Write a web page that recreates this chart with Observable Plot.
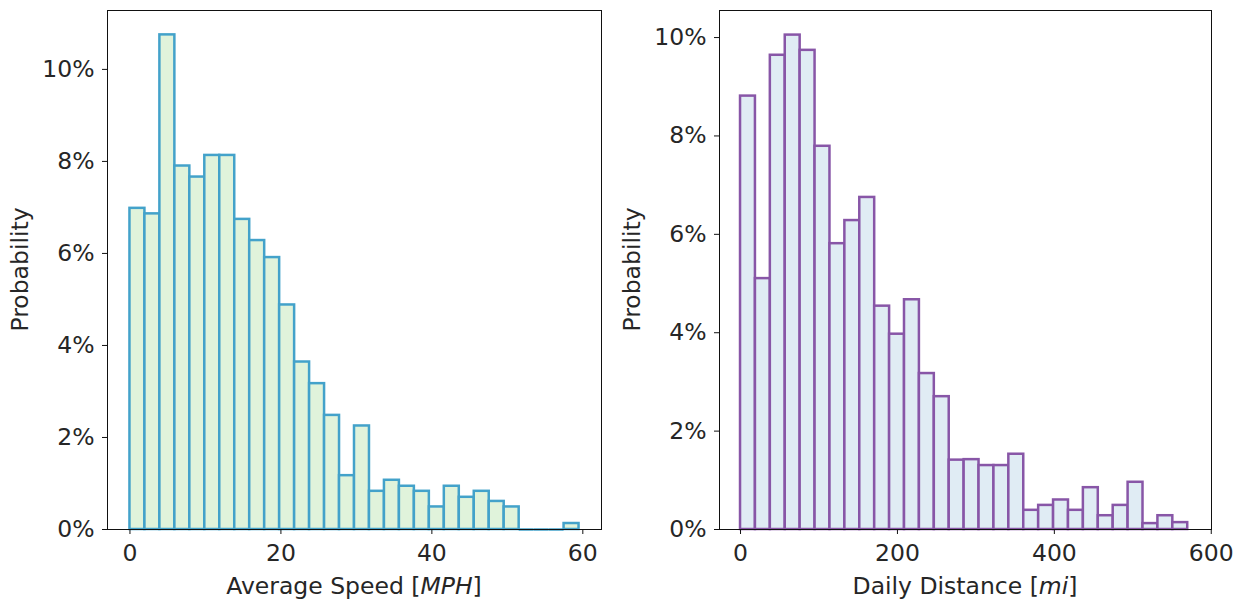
<!DOCTYPE html>
<html>
<head>
<meta charset="utf-8">
<script src="https://cdn.jsdelivr.net/npm/d3@7"></script>
<script src="https://cdn.jsdelivr.net/npm/@observablehq/plot@0.6"></script>
<style>
  html, body { margin: 0; padding: 0; background: white; }
  #chart { display: flex; width: 1241px; height: 600px; }
  #chart svg { overflow: visible; }
</style>
</head>
<body>
<div id="chart"></div>
<script>
// ---- data (probability per bin, in %) ----
const speedValues = [6.98, 6.86, 10.75, 7.90, 7.66, 8.13, 8.13, 6.74, 6.28, 5.91,
                     4.88, 3.64, 3.17, 2.48, 1.17, 2.25, 0.83, 1.07, 0.94, 0.83,
                     0.49, 0.94, 0.70, 0.83, 0.61, 0.49, 0, 0, 0, 0.13];
const speedRange = [0, 59.5];
const distanceValues = [8.81, 5.10, 9.64, 10.05, 9.74, 7.79, 5.81, 6.28, 6.75, 4.54,
                        3.97, 4.67, 3.17, 2.70, 1.41, 1.42, 1.30, 1.30, 1.53, 0.39,
                        0.49, 0.60, 0.39, 0.85, 0.28, 0.49, 0.96, 0.12, 0.28, 0.14];
const distanceRange = [0, 570];
const speedTicks = [0, 20, 40, 60];
const distanceTicks = [0, 200, 400, 600];
const probTicks = [0, 2, 4, 6, 8, 10];
const probTickLabels = ["0%", "2%", "4%", "6%", "8%", "10%"];

function binTable(values, range) {
  const w = (range[1] - range[0]) / values.length;
  return values.map((p, i) => ({x1: range[0] + i * w, x2: range[0] + (i + 1) * w, p}));
}

const FONT = "DejaVu Sans";
const FS = 23.5;
const TXT = "#262626";

function panel({values, range, xTicks, xDomain, yDomain, fill, stroke, width, mL, mR, xLabel, xItalic}) {
  const table = binTable(values, range);
  const svg = Plot.plot({
    width, height: 600,
    marginLeft: mL, marginRight: mR, marginTop: 10, marginBottom: 71,
    style: {fontFamily: FONT, fontSize: FS + "px", color: TXT, background: "white"},
    x: {domain: xDomain},
    y: {domain: yDomain},
    marks: [
      Plot.rect(table, {x1: "x1", x2: "x2", y1: 0, y2: "p", fill, stroke, strokeWidth: 2.5}),
      Plot.ruleY(table.filter(d => d.p === 0), {x1: "x1", x2: "x2", y: 0, stroke, strokeWidth: 2.5}),
      Plot.frame({stroke: "#111", strokeWidth: 1}),
      Plot.axisX({ticks: xTicks, tickSize: 5, tickPadding: 10, label: null, fontSize: FS, stroke: "#111"}),
      Plot.axisY({ticks: probTicks, tickFormat: d => probTickLabels[probTicks.indexOf(d)],
                  tickSize: 5, tickPadding: 8, label: null, fontSize: FS, stroke: "#111"})
    ]
  });
  const s = d3.select(svg);
  const cx = mL + (width - mL - mR) / 2;
  const t = s.append("text").attr("x", cx).attr("y", 594).attr("text-anchor", "middle")
    .attr("fill", TXT).style("font-size", FS + "px").style("font-family", FONT);
  t.append("tspan").text(xLabel);
  t.append("tspan").attr("font-style", "italic").text(xItalic);
  t.append("tspan").text("]");
  const cy = 10 + (600 - 10 - 71) / 2;
  s.append("text").attr("transform", `translate(${mL - 79},${cy}) rotate(-90)`)
    .attr("text-anchor", "middle").attr("fill", TXT)
    .style("font-size", FS + "px").style("font-family", FONT).text("Probability");
  return svg;
}

const chart = document.getElementById("chart");
chart.appendChild(panel({
  values: speedValues, range: speedRange, xTicks: speedTicks,
  xDomain: [-2.975, 62.475], yDomain: [0, 11.28],
  fill: "#e0f3db", stroke: "#43a2ca", width: 612, mL: 107, mR: 11,
  xLabel: "Average Speed [", xItalic: "MPH"
}));
chart.appendChild(panel({
  values: distanceValues, range: distanceRange, xTicks: distanceTicks,
  xDomain: [-26.8, 600.3], yDomain: [0, 10.55],
  fill: "#e0ecf4", stroke: "#8856a7", width: 629, mL: 107, mR: 30,
  xLabel: "Daily Distance [", xItalic: "mi"
}));
</script>
</body>
</html>
